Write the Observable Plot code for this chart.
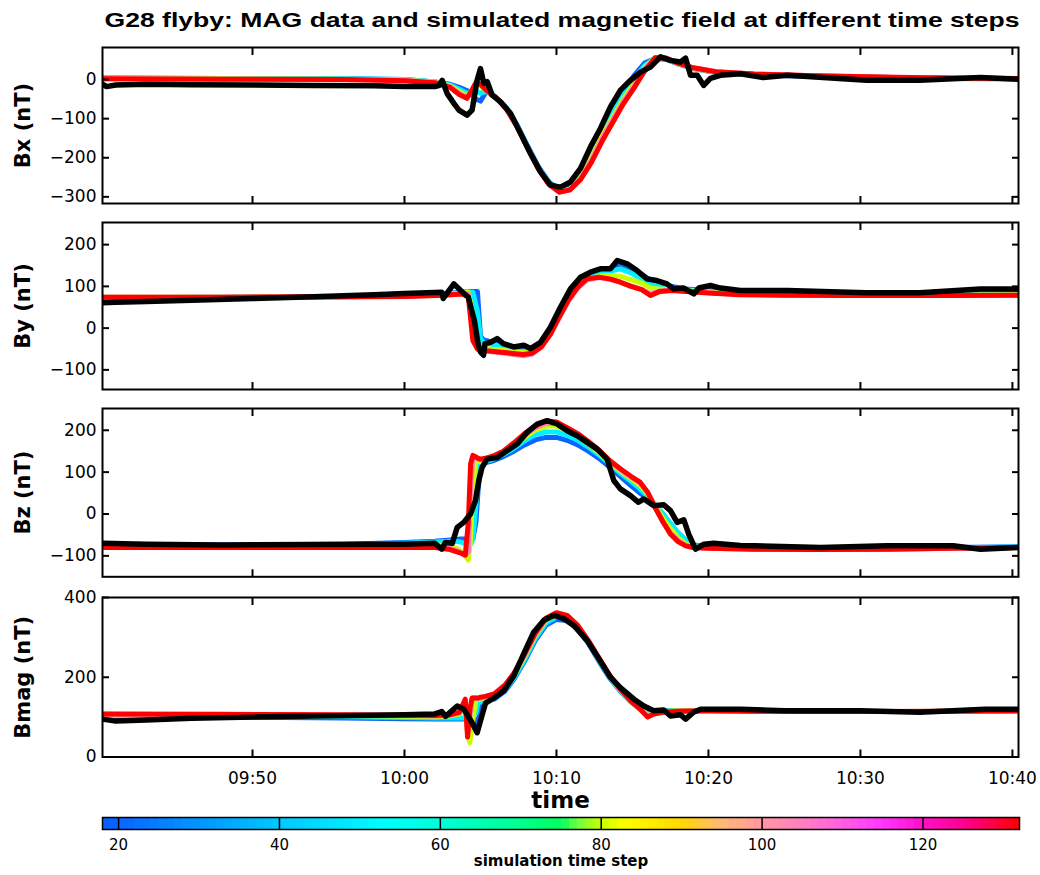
<!DOCTYPE html>
<html><head><meta charset="utf-8">
<script src="https://cdn.jsdelivr.net/npm/d3@7"></script>
<script src="https://cdn.jsdelivr.net/npm/@observablehq/plot@0.6"></script>
<style>
html,body{margin:0;padding:0;background:#fff;}
#root{position:relative;width:1040px;height:875px;overflow:hidden;}
#root svg{position:absolute;left:0;overflow:visible;}
</style></head><body><div id="root"></div>
<script>
// ---- text ----
const titleText = "G28 flyby: MAG data and simulated magnetic field at different time steps";
const xAxisLabel = "time";
const colorbarLabel = "simulation time step";
const panelLabels = ["Bx (nT)", "By (nT)", "Bz (nT)", "Bmag (nT)"];

// ---- time axis (minutes after 09:40) ----
const xDomainMin = [0.13, 60.4];
const xTickMin = [10, 20, 30, 40, 50, 60];

// ---- colormap of simulation time step ----
const cmapSteps = [18, 20, 30, 40, 50, 53, 60, 70, 75, 77, 80, 83, 90, 95, 100, 105, 110, 115, 120, 125, 129, 132];
const cmapColors = ["#0a5cf5","#0a64ff","#0096ff","#00c8ff","#00f0ff","#00ffff","#00ffd8","#00ff90","#00ff60","#70ff40","#c8ff00","#ffff00","#ffd800","#ffb878","#ff98a0","#ff80c0","#ff60e0","#ff38ff","#ff10c8","#ff0090","#ff0040","#ff0000"];
const cbTicks = [20, 40, 60, 80, 100, 120];
const cbDomain = [18, 132];

// simulation time steps drawn
const simSteps = [20, 50, 80, 105, 132];

// ---- Bx ----
const bxTicks = [-300, -200, -100, 0];
const bxDomain = [-317, 82];
const bxSimT = [0.13, 8, 16, 20, 22, 23, 23.6, 24.1, 24.4, 24.7, 25.0, 25.4, 26, 26.7, 27.4, 28.1, 28.8, 29.5, 30.2, 30.9, 31.6, 32.3, 33, 33.7, 34.4, 35.1, 35.8, 36.5, 37.2, 38, 39, 40.5, 43, 47, 52, 56, 60.4];
const bx20 = [4, 3, 2, 0, -6, -12, -20, -28, -35, -50, -55, -30, -45, -72, -115, -170, -222, -262, -282, -278, -240, -180, -125, -75, -30, 10, 42, 54, 52, 40, 28, 18, 12, 8, 5, 3, 2];
const bx50 = [4, 3, 2, 0, -6, -14, -25, -35, -35, -30, -35, -30, -45, -73, -117, -172, -225, -265, -284, -280, -245, -190, -133, -85, -40, 2, 36, 55, 53, 41, 29, 19, 13, 9, 5, 3, 2];
const bx80 = [3, 2, 1, -1, -7, -16, -30, -42, -30, -12, -15, -29, -45, -74, -118, -174, -227, -267, -286, -281, -250, -200, -143, -97, -50, -10, 30, 56, 54, 41, 29, 19, 13, 9, 5, 3, 2];
const bx105 = [2, 1, 0, -2, -8, -18, -35, -46, -30, -8, -12, -28, -45, -75, -120, -175, -228, -268, -288, -282, -253, -206, -150, -103, -56, -16, 26, 56, 55, 42, 30, 20, 14, 10, 6, 4, 3];
const bx132 = [2, 1, 0, -3, -8, -20, -38, -48, -30, -8, -12, -28, -45, -75, -120, -175, -228, -268, -288, -282, -255, -212, -158, -110, -62, -22, 22, 56, 55, 42, 30, 20, 14, 10, 6, 4, 3];
const bxMagT = [0.13, 0.4, 1, 3, 6, 10, 14, 18, 20, 22.0, 22.3, 22.48, 22.81, 23.25, 23.58, 24.12, 24.45, 24.78, 25.0, 25.22, 25.44, 25.77, 26.32, 26.97, 27.63, 28.29, 28.95, 29.6, 30.26, 30.92, 31.58, 32.24, 32.89, 33.55, 34.21, 34.87, 35.53, 36.18, 36.84, 37.5, 38.16, 38.49, 38.82, 39.26, 39.69, 40.13, 40.79, 42.1, 43.6, 45.2, 50.4, 53.9, 57.9, 60.4];
const bxMag = [-12, -18, -14, -12, -13, -14, -15, -16, -18, -18, -15, -2, -36, -61, -78, -91, -78, -2, 28, -10, -5, -40, -57, -86, -137, -189, -236, -270, -275, -262, -227, -172, -125, -70, -27, -2, 19, 32, 58, 49, 45, 55, 11, 11, -15, 3, 11, 15, 5, 11, -2, -2, 5, 1];

// ---- By ----
const byTicks = [-100, 0, 100, 200];
const byDomain = [-147, 253];
const bySimT = [0.13, 8, 16, 20, 22, 23, 23.8, 24.2, 24.5, 24.8, 25.0, 25.2, 25.6, 26.2, 27, 27.8, 28.4, 29, 29.6, 30.2, 30.8, 31.4, 32, 32.8, 33.5, 34.2, 34.9, 35.6, 36.2, 36.8, 37.6, 38.5, 40, 42, 45, 50, 55, 60.4];
const by20 = [72, 73, 75, 77, 80, 84, 86, 87, 88, 88, -20, -28, -32, -38, -50, -52, -50, -35, -5, 35, 75, 105, 122, 132, 140, 150, 140, 128, 115, 106, 100, 94, 90, 86, 84, 82, 82, 83];
const by50 = [73, 74, 75, 77, 79, 83, 85, 86, 86, 40, -25, -35, -38, -42, -53, -56, -53, -38, -8, 32, 72, 102, 120, 130, 136, 142, 132, 118, 105, 100, 96, 92, 88, 84, 82, 80, 80, 81];
const by80 = [74, 74, 75, 77, 78, 82, 84, 86, 30, -40, -45, -48, -50, -52, -56, -59, -56, -41, -11, 28, 68, 98, 115, 124, 126, 124, 116, 108, 96, 93, 93, 90, 86, 82, 80, 79, 79, 80];
const by105 = [74, 74, 75, 76, 78, 80, 83, 82, 0, -48, -52, -55, -56, -58, -62, -66, -62, -45, -14, 26, 66, 96, 116, 121, 117, 110, 101, 93, 82, 89, 91, 89, 85, 81, 79, 78, 78, 79];
const by132 = [74, 74, 75, 76, 78, 80, 82, 75, -30, -50, -52, -54, -55, -57, -60, -63, -60, -45, -15, 28, 68, 98, 118, 122, 118, 110, 100, 92, 78, 88, 90, 88, 84, 80, 79, 78, 78, 79];
const byMagT = [0.13, 1, 3, 6, 10, 14, 18, 20, 21.5, 22.45, 22.55, 23.25, 23.7, 24.2, 24.6, 24.84, 25.0, 25.2, 25.3, 25.66, 26.1, 26.5, 27.19, 27.85, 28.29, 28.95, 29.6, 30.26, 30.92, 31.58, 32.24, 32.89, 33.55, 34.0, 34.65, 35.3, 35.96, 36.6, 37.27, 37.7, 38.38, 39.04, 39.37, 40.13, 40.79, 42.1, 45.2, 50.4, 53.9, 57.9, 60.4];
const byMag = [61, 62, 64, 67, 71, 75, 80, 83, 85, 86, 71, 106, 90, 74, 18, -37, -57, -65, -37, -34, -25, -37, -45, -41, -49, -34, 2, 50, 94, 122, 134, 142, 142, 162, 154, 138, 118, 114, 106, 94, 96, 82, 96, 102, 96, 90, 90, 85, 85, 94, 94];

// ---- Bz ----
const bzTicks = [-100, 0, 100, 200];
const bzDomain = [-150, 252];
const bzSimT = [0.13, 8, 16, 20, 22, 23, 23.6, 24.0, 24.2, 24.35, 24.5, 24.7, 24.85, 25.0, 25.3, 25.8, 26.5, 27.2, 27.9, 28.6, 29.3, 30.0, 30.7, 31.4, 32.1, 32.8, 33.5, 34.2, 34.9, 35.5, 36.0, 36.5, 37.0, 37.5, 38.0, 38.5, 39.0, 40, 43, 47, 52, 56, 60.4];
const bz20 = [-75, -74, -72, -68, -65, -62, -60, -60, -62, -62, -60, -20, 60, 112, 122, 127, 137, 150, 165, 177, 183, 183, 176, 165, 150, 133, 112, 90, 68, 50, 38, 20, 0, -25, -45, -62, -74, -78, -80, -82, -80, -80, -78];
const bz50 = [-77, -76, -74, -70, -67, -65, -66, -70, -72, -72, -60, 20, 110, 120, 125, 130, 142, 157, 175, 190, 196, 196, 188, 176, 160, 141, 119, 98, 78, 60, 42, 22, 0, -22, -45, -63, -75, -80, -82, -83, -82, -81, -79];
const bz80 = [-78, -78, -77, -75, -74, -75, -85, -100, -110, -60, 60, 128, 126, 125, 128, 134, 146, 163, 183, 200, 210, 210, 200, 186, 167, 146, 123, 103, 84, 68, 48, 20, -10, -35, -57, -72, -79, -81, -83, -84, -83, -81, -80];
const bz105 = [-79, -79, -79, -78, -78, -82, -90, -100, -90, 60, 135, 134, 131, 129, 131, 136, 148, 167, 188, 206, 217, 216, 204, 190, 170, 150, 126, 106, 88, 74, 52, 15, -20, -45, -63, -75, -80, -82, -84, -85, -84, -82, -80];
const bz132 = [-80, -80, -80, -80, -80, -85, -92, -98, -20, 120, 140, 136, 133, 131, 133, 138, 150, 170, 192, 210, 222, 220, 206, 192, 173, 153, 128, 108, 90, 76, 52, 15, -18, -48, -66, -76, -80, -82, -84, -85, -84, -82, -80];
const bzMagT = [0.13, 3, 8, 14, 18, 20, 22.0, 22.45, 22.7, 23.14, 23.47, 23.9, 24.34, 24.67, 24.89, 25.1, 25.44, 26.1, 26.75, 27.41, 28.07, 28.73, 29.39, 30.04, 30.7, 31.36, 32.02, 32.68, 33.33, 33.77, 34.2, 34.87, 35.4, 35.75, 36.4, 37.06, 37.5, 37.94, 38.38, 38.7, 39.15, 39.7, 40.35, 42.1, 43, 47.4, 51.75, 56.1, 57.9, 60.4];
const bzMag = [-70, -72, -74, -73, -72, -72, -70, -84, -68, -70, -32, -20, 0, 32, 80, 111, 131, 135, 151, 167, 195, 215, 223, 215, 199, 187, 171, 155, 131, 80, 60, 44, 28, 36, 20, 22, 8, -20, -14, -48, -84, -72, -70, -75, -76, -80, -76, -76, -84, -80];

// ---- Bmag ----
const bmTicks = [0, 200, 400];
const bmDomain = [0, 400];
const bmSimT = [0.13, 8, 16, 20, 22, 23, 23.6, 24.0, 24.15, 24.3, 24.45, 24.7, 24.85, 25.0, 25.3, 25.9, 26.6, 27.2, 27.9, 28.6, 29.3, 30.0, 30.7, 31.4, 32.1, 32.8, 33.5, 34.2, 34.9, 35.5, 36.0, 36.4, 37, 38, 40, 43, 47, 52, 56, 60.4];
const bm20 = [100, 100, 98, 96, 95, 95, 95, 95, 95, 96, 97, 95, 75, 130, 140, 145, 165, 195, 240, 292, 330, 345, 342, 320, 285, 240, 198, 165, 138, 122, 115, 115, 116, 116, 116, 115, 114, 114, 114, 114];
const bm50 = [103, 103, 101, 99, 98, 98, 98, 98, 98, 99, 100, 110, 140, 138, 143, 148, 168, 198, 244, 297, 336, 351, 347, 324, 288, 243, 200, 166, 138, 121, 110, 112, 115, 116, 116, 115, 114, 114, 114, 115];
const bm80 = [106, 105, 104, 102, 101, 103, 108, 120, 60, 36, 80, 145, 145, 145, 148, 152, 173, 204, 251, 304, 343, 357, 351, 327, 290, 246, 203, 168, 139, 120, 104, 110, 114, 116, 116, 115, 114, 114, 115, 116];
const bm105 = [107, 106, 105, 104, 103, 105, 110, 135, 60, 100, 148, 148, 147, 148, 150, 155, 177, 207, 255, 307, 346, 360, 353, 329, 291, 247, 204, 169, 139, 120, 102, 108, 112, 115, 116, 115, 114, 114, 115, 116];
const bm132 = [108, 107, 106, 105, 104, 106, 112, 145, 50, 120, 148, 148, 148, 150, 152, 158, 180, 210, 258, 310, 348, 362, 355, 330, 292, 248, 205, 170, 140, 120, 100, 108, 112, 115, 116, 115, 114, 114, 115, 116];
const bmMagT = [0.13, 1, 3, 6, 10, 14, 18, 20, 22.0, 22.45, 22.7, 23.47, 23.9, 24.45, 24.78, 25.0, 25.33, 25.88, 26.54, 27.2, 27.85, 28.5, 29.17, 29.82, 30.48, 31.14, 32.02, 32.89, 33.55, 34.2, 35.1, 35.75, 36.4, 37.06, 37.5, 38.16, 38.5, 39.0, 39.48, 42.1, 45, 50, 53.9, 58.2, 60.4];
const bmMag = [95, 90, 93, 97, 100, 103, 105, 106, 108, 114, 102, 128, 120, 86, 61, 91, 135, 148, 166, 204, 259, 313, 343, 355, 347, 330, 292, 240, 200, 174, 145, 128, 116, 118, 103, 106, 95, 112, 120, 120, 116, 116, 112, 120, 120];

// ---------------- rendering ----------------
const T0 = Date.UTC(2010, 4, 20, 9, 40);
const toDate = m => new Date(T0 + m * 60000);
const xDomain = xDomainMin.map(toDate);
const xTickDates = xTickMin.map(toDate);
const colorOpts = {type: "linear", domain: cmapSteps, range: cmapColors, interpolate: "rgb"};
const FONT = "'DejaVu Sans', Verdana, sans-serif";
const root = document.getElementById("root");

const panels = [
  {label: panelLabels[0], ticks: bxTicks, domain: bxDomain, simT: bxSimT, sims: [bx20, bx50, bx80, bx105, bx132], magT: bxMagT, mag: bxMag, top: 39.3, frameH: 156},
  {label: panelLabels[1], ticks: byTicks, domain: byDomain, simT: bySimT, sims: [by20, by50, by80, by105, by132], magT: byMagT, mag: byMag, top: 214, frameH: 167},
  {label: panelLabels[2], ticks: bzTicks, domain: bzDomain, simT: bzSimT, sims: [bz20, bz50, bz80, bz105, bz132], magT: bzMagT, mag: bzMag, top: 399.7, frameH: 168.3},
  {label: panelLabels[3], ticks: bmTicks, domain: bmDomain, simT: bmSimT, sims: [bm20, bm50, bm80, bm105, bm132], magT: bmMagT, mag: bmMag, top: 589, frameH: 159.5, last: true}
];

panels.forEach(cfg => {
  const simRows = simSteps.flatMap((s, k) => cfg.simT.map((m, i) => ({t: toDate(m), v: cfg.sims[k][i], step: s})));
  const magRows = cfg.magT.map((m, i) => ({t: toDate(m), v: cfg.mag[i]}));
  const mt = 8, mb = cfg.last ? 60 : 8;
  const marks = [
    Plot.line(simRows, {x: "t", y: "v", z: "step", stroke: "step", strokeWidth: 5, clip: true}),
    Plot.line(magRows, {x: "t", y: "v", stroke: "black", strokeWidth: 5.5, clip: true}),
    Plot.frame({stroke: "black", strokeWidth: 2}),
    Plot.axisY(cfg.ticks, {anchor: "left", tickSize: 0, tickPadding: 6, fontSize: 17, label: null}),
    Plot.axisY(cfg.ticks, {anchor: "left", tickSize: -7, strokeWidth: 2, tickFormat: () => "", label: null}),
    Plot.axisY(cfg.ticks, {anchor: "right", tickSize: -7, strokeWidth: 2, tickFormat: () => "", label: null}),
    Plot.axisX(xTickDates, {anchor: "top", tickSize: -7, strokeWidth: 2, tickFormat: () => "", label: null}),
    Plot.axisX(xTickDates, {anchor: "bottom", tickSize: -7, strokeWidth: 2, tickFormat: () => "", label: null}),
    Plot.text([cfg.label], {frameAnchor: "left", dx: -79, rotate: -90, textAnchor: "middle", lineAnchor: "middle", fontSize: 21, fontWeight: "bold"})
  ];
  if (cfg.last) {
    marks.push(Plot.axisX(xTickDates, {anchor: "bottom", tickSize: 0, tickPadding: 15, fontSize: 17, tickFormat: d3.utcFormat("%H:%M"), label: null}));
    marks.push(Plot.text([xAxisLabel], {frameAnchor: "bottom", dy: 44, fontSize: 23, fontWeight: "bold", lineAnchor: "middle"}));
  }
  const svg = Plot.plot({
    width: 1040, height: cfg.frameH + mt + mb,
    marginLeft: 102, marginRight: 22, marginTop: mt, marginBottom: mb,
    style: {fontFamily: FONT, fontSize: "17px", color: "black", background: "transparent", overflow: "visible"},
    x: {type: "utc", domain: xDomain},
    y: {domain: cfg.domain},
    color: colorOpts,
    marks
  });
  svg.style.top = cfg.top + "px";
  root.appendChild(svg);
});

// colorbar
const cbCells = d3.range(cbDomain[0], cbDomain[1]);
const cb = Plot.plot({
  width: 1040, height: 12 + 4 + 52,
  marginLeft: 102, marginRight: 21, marginTop: 4, marginBottom: 52,
  style: {fontFamily: FONT, fontSize: "15px", color: "black", background: "transparent", overflow: "visible"},
  x: {domain: cbDomain},
  color: colorOpts,
  marks: [
    Plot.rect(cbCells, {x1: d => d, x2: d => d + 1, fill: d => d + 0.5, shapeRendering: "crispEdges"}),
    Plot.ruleX(cbTicks, {stroke: "black", strokeWidth: 1.5}),
    Plot.frame({stroke: "black", strokeWidth: 1.5}),
    Plot.axisX(cbTicks, {anchor: "bottom", tickSize: 0, tickPadding: 10, fontSize: 15, label: null}),
    Plot.text([colorbarLabel], {frameAnchor: "bottom", dy: 32, fontSize: 15, fontWeight: "bold", lineAnchor: "middle"})
  ]
});
cb.style.top = "813.3px";
root.appendChild(cb);

// title
const tsvg = d3.create("svg").attr("width", 1040).attr("height", 36).style("top", "0px");
tsvg.append("text")
  .attr("x", 562).attr("y", 27).attr("text-anchor", "middle")
  .attr("font-family", "'Liberation Sans', Arial, sans-serif")
  .attr("font-weight", "bold").attr("font-size", 21)
  .attr("textLength", 915).attr("lengthAdjust", "spacingAndGlyphs")
  .text(titleText);
root.appendChild(tsvg.node());
</script>
</body></html>
